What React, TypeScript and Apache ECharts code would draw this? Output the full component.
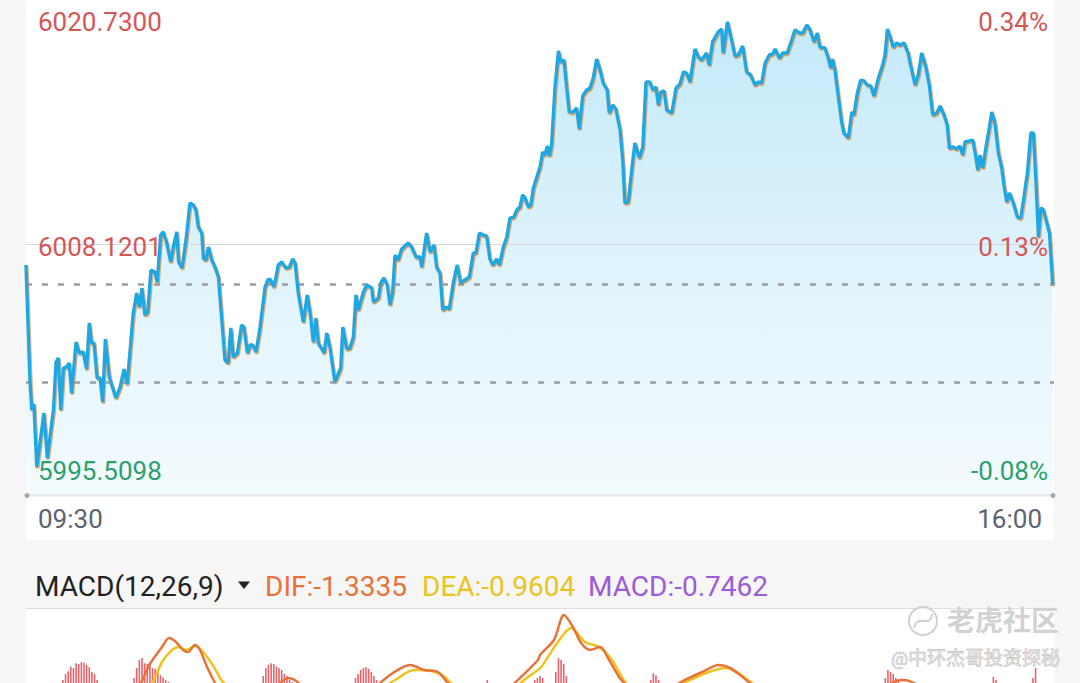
import React, { useEffect, useRef } from "react";
import * as echarts from "echarts";

// ---------- price (minutes after 09:30) ----------
const priceMinutes = [
  0, 1.5, 2.2, 3.0, 4.1, 6.8, 8.1, 10.4, 11.4, 12.3, 13.2, 14.2, 15.4, 16.4, 17.3, 19.0, 20.2, 21.7, 23.0, 24.0,
  24.9, 25.8, 27.0, 28.1, 29.1, 30.1, 31.6, 34.1, 35.7, 37.2, 38.4, 40.7, 42.0, 43.0, 44.0, 45.1, 46.2, 47.4, 48.9, 49.8,
  51.1, 52.1, 53.4, 54.9, 55.9, 57.2, 57.9, 59.2, 60.7, 62.2, 63.5, 64.5, 65.4, 66.7, 67.3, 68.3, 69.2, 70.5, 71.7, 73.0,
  74.2, 75.5, 76.7, 77.7, 78.6, 80.2, 81.8, 82.7, 84.0, 85.0, 86.0, 87.3, 88.8, 90.7, 91.9, 92.8, 94.1, 95.7, 97.0, 98.6,
  99.9, 101.2, 102.1, 103.3, 105.2, 106.7, 108.0, 109.0, 110.0, 110.9, 113.1, 114.1, 115.3, 117.2, 119.4, 120.2, 121.7, 122.9, 124.2, 125.2,
  126.1, 128.0, 129.3, 131.2, 131.8, 133.7, 134.6, 135.8, 137.1, 138.1, 139.1, 140.0, 141.2, 142.5, 145.0, 146.3, 148.0, 149.5, 150.1, 152.0,
  153.3, 154.8, 155.8, 157.1, 158.1, 159.3, 160.6, 162.1, 163.6, 164.9, 166.5, 168.2, 169.7, 170.7, 172.0, 173.3, 174.8, 176.0, 177.1, 178.6,
  179.6, 181.1, 182.4, 183.6, 185.1, 186.2, 187.4, 188.4, 189.3, 190.6, 191.5, 192.5, 193.7, 195.0, 196.0, 196.9, 197.8, 198.6, 199.4, 200.7,
  202.0, 202.9, 204.1, 205.1, 206.1, 207.6, 208.9, 209.9, 211.2, 212.7, 214.0, 215.2, 216.5, 217.8, 219.0, 220.5, 221.3, 222.6, 223.8, 225.4,
  226.4, 227.2, 228.5, 229.8, 231.0, 232.7, 234.0, 235.2, 236.7, 237.8, 239.0, 239.9, 240.8, 242.1, 243.1, 245.0, 246.6, 248.1, 249.4, 250.6,
  251.9, 253.8, 255.1, 256.3, 258.2, 259.2, 260.5, 262.6, 263.9, 264.5, 266.1, 267.7, 269.0, 270.2, 271.9, 273.4, 274.9, 276.6, 277.8, 279.1,
  280.4, 282.0, 283.3, 284.2, 285.8, 287.1, 288.8, 290.5, 291.7, 293.4, 294.7, 296.2, 297.5, 299.0, 300.2, 301.2, 303.1, 304.4, 305.3, 306.0,
  306.9, 308.2, 309.5, 310.3, 312.0, 313.3, 314.1, 315.4, 316.7, 317.9, 319.2, 320.5, 321.7, 323.4, 325.0, 325.9, 326.8, 328.0, 329.0, 330.3,
  331.6, 333.1, 334.7, 335.6, 337.3, 338.5, 339.8, 341.4, 342.7, 344.0, 345.5, 346.8, 348.3, 349.5, 350.3, 351.8, 353.1, 354.3, 355.4, 356.2,
  357.9, 359.2, 360.1, 361.1, 361.9, 363.0, 364.2, 365.5, 366.4, 367.6, 368.9, 370.2, 371.0, 372.1, 373.1, 374.6, 376.1, 377.4, 378.6, 379.9,
  381.2, 382.2, 383.2, 384.1, 385.0, 386.0, 387.3, 388.3, 389.5,
];
const prices = [
  6006.96, 6000.44, 5998.74, 5999.08, 5995.51, 5998.57, 5996.02, 5998.74, 6001.46, 6001.69, 5998.74, 6001.12, 6001.18, 6001.40, 5999.70, 6002.59, 6001.97, 6002.03, 6001.06, 6003.67,
  6002.54, 6002.54, 6000.55, 6000.55, 5999.19, 6002.76, 6000.61, 5999.42, 6000.04, 6001.06, 6000.21, 6004.24, 6005.37, 6004.58, 6005.65, 6004.12, 6004.29, 6006.67, 6006.56, 6005.99,
  6008.66, 6008.83, 6008.20, 6007.13, 6007.98, 6008.83, 6007.13, 6006.79, 6008.37, 6010.47, 6010.36, 6010.08, 6009.11, 6008.77, 6007.35, 6007.24, 6007.98, 6007.24, 6006.84, 6006.28,
  6004.01, 6001.57, 6001.40, 6003.39, 6001.74, 6001.97, 6003.56, 6003.44, 6001.97, 6002.42, 6002.42, 6002.03, 6003.44, 6005.71, 6006.16, 6006.11, 6005.71, 6006.96, 6007.13, 6006.79,
  6006.84, 6007.30, 6007.07, 6005.37, 6003.73, 6005.26, 6004.01, 6002.59, 6003.95, 6002.54, 6001.97, 6003.10, 6002.31, 6000.33, 6001.12, 6003.44, 6002.20, 6002.25, 6002.88, 6005.26,
  6004.41, 6005.43, 6005.82, 6005.65, 6004.86, 6005.09, 6005.94, 6006.22, 6005.82, 6004.69, 6005.43, 6007.52, 6007.24, 6007.86, 6008.20, 6007.98, 6007.41, 6007.41, 6006.84, 6008.77,
  6007.69, 6008.09, 6006.84, 6006.50, 6004.41, 6004.58, 6004.46, 6005.94, 6006.96, 6005.94, 6006.11, 6006.28, 6007.64, 6007.64, 6008.77, 6008.66, 6008.60, 6007.30, 6006.96, 6007.30,
  6006.96, 6007.98, 6008.54, 6009.62, 6009.68, 6010.08, 6010.25, 6010.93, 6010.76, 6010.25, 6010.36, 6011.32, 6011.89, 6012.51, 6013.36, 6013.19, 6013.70, 6013.14, 6013.76, 6017.05,
  6019.09, 6018.46, 6018.58, 6017.05, 6015.63, 6015.63, 6015.86, 6014.67, 6016.54, 6016.88, 6016.99, 6017.56, 6018.63, 6018.01, 6017.27, 6016.88, 6015.57, 6016.03, 6015.80, 6014.61,
  6012.91, 6010.47, 6010.53, 6012.34, 6013.87, 6013.02, 6013.65, 6017.33, 6017.33, 6016.88, 6017.05, 6016.03, 6016.76, 6016.82, 6015.74, 6015.57, 6016.99, 6017.22, 6017.90, 6017.84,
  6017.33, 6019.20, 6018.75, 6018.58, 6018.97, 6018.29, 6019.60, 6020.16, 6020.33, 6018.97, 6020.73, 6019.71, 6018.80, 6018.86, 6019.37, 6017.90, 6017.73, 6017.16, 6017.33, 6017.27,
  6018.41, 6018.86, 6018.92, 6019.20, 6018.69, 6018.97, 6018.97, 6019.71, 6020.28, 6020.11, 6020.11, 6020.56, 6020.28, 6019.60, 6020.11, 6019.31, 6019.26, 6018.69, 6018.12, 6018.63,
  6018.01, 6016.48, 6015.01, 6014.44, 6014.16, 6015.63, 6015.46, 6016.71, 6017.44, 6017.39, 6017.16, 6017.10, 6016.54, 6017.56, 6018.29, 6018.86, 6020.33, 6019.82, 6019.31, 6019.54,
  6019.43, 6019.54, 6018.97, 6018.29, 6017.16, 6017.73, 6018.97, 6018.18, 6017.16, 6015.46, 6015.57, 6015.97, 6015.46, 6014.89, 6013.59, 6013.65, 6013.53, 6013.70, 6013.19, 6013.93,
  6013.99, 6014.04, 6013.31, 6012.34, 6013.19, 6012.46, 6013.65, 6014.78, 6015.63, 6015.01, 6013.31, 6012.46, 6011.49, 6010.53, 6011.04, 6010.47, 6009.68, 6009.62, 6010.81, 6012.17,
  6014.44, 6014.44, 6011.61, 6008.54, 6010.19, 6010.08, 6009.34, 6008.77, 6005.85,
];

const prevClose = 6000.33;
const lastPrice = 6005.85;
const midPrice = 6008.1201;
const axisMin = 5993.923;
const axisMax = 6021.977;

const leftTickLabels = ["6020.7300", "6008.1201", "5995.5098"];
const rightTickLabels = ["0.34%", "0.13%", "-0.08%"];
const tickColors = ["#d65656", "#d65656", "#2d9f6d"];
const timeLabels = ["09:30", "16:00"];

// ---------- MACD ----------
const macdTitle = "MACD(12,26,9)";
const macdLegendTexts = ["DIF:-1.3335", "DEA:-0.9604", "MACD:-0.7462"];
// visible slice of the MACD value axis (the panel is cut by the screenshot)
const macdAxisMin = 0.225;
const macdAxisMax = 2.0;

const difMinutes = [
  0, 10, 30, 40, 43.6, 47, 51.6, 54.3, 56.9, 59.6, 61.5, 64.1, 66, 68.7, 71.7, 76, 85, 92, 96, 99.4,
  103.9, 110, 120, 130, 134, 139.2, 145.7, 151, 156.3, 160.1, 165, 175, 183, 187.8, 194.2, 195, 200.3, 204.1, 207.5, 210.6,
  214, 217.8, 221.2, 225, 226.9, 232, 240, 245, 248.5, 256.5, 262.9, 267.1, 270.9, 274.7, 285, 300, 315, 325, 332, 335,
  340, 350, 360, 370, 380, 389.5,
];
const difValues = [
  -0.6, -0.3, -0.2, -0.1, 0.225, 0.7, 1.125, 1.35, 1.25, 1.05, 1.0, 1.175, 1.05, 0.625, 0.225, -0.3, -0.4, -0.1, 0.2, 0.35,
  0.2, -0.3, -0.4, -0.1, 0.2, 0.475, 0.675, 0.55, 0.5, 0.225, 0.0, -0.1, 0.1, 0.375, 0.8, 0.925, 1.3, 1.925, 1.625, 1.225,
  1.05, 1.125, 0.8, 0.375, 0.225, -0.2, 0.0, 0.1, 0.25, 0.5, 0.675, 0.6, 0.425, 0.225, -0.2, -0.5, -0.3, 0.1, 0.3, 0.28,
  0.1, -0.4, -0.8, -0.7, -0.9, -1.3335,
];
const deaMinutes = [
  0, 20, 40, 47.8, 51.6, 55.4, 58, 60.7, 64.1, 67.2, 71.3, 75.1, 85, 100, 110, 125, 135, 140, 147.2, 153.7,
  159, 161.2, 170, 180, 185, 190.5, 195.4, 201.5, 206.8, 212.1, 217.4, 222.3, 227.6, 235, 245, 251, 259.1, 265.6, 270.9, 275.4,
  290, 310, 330, 345, 360, 375, 389.5,
];
const deaValues = [
  -0.5, -0.3, -0.2, 0.225, 0.75, 1.05, 1.125, 1.05, 1.15, 1.0, 0.625, 0.225, -0.1, 0.1, -0.1, -0.2, 0.1, 0.3, 0.55, 0.525,
  0.375, 0.225, 0.0, -0.05, 0.1, 0.375, 0.625, 1.225, 1.6, 1.25, 1.125, 0.8, 0.225, -0.1, 0.05, 0.27, 0.5, 0.6, 0.45, 0.225,
  -0.2, -0.3, 0.1, -0.2, -0.5, -0.7, -0.9604,
];
const barMinutes = [
  14, 15, 16, 17, 18, 19, 20, 21, 22, 23, 24, 25, 26, 27,
  41, 42, 43, 44, 45, 46, 47, 48, 49, 50, 51, 52, 53, 54,
  90, 91, 92, 93, 94, 95, 96, 97, 98, 99, 100, 101,
  125, 126, 127, 128, 129, 130, 131, 132, 133,
  175, 193, 194, 195, 196,
  201, 202, 203, 204, 205,
  237, 238, 239, 240,
  326, 327, 328, 329, 330, 331,
  367, 368, 382, 383,
];
const barValues = [
  0.3, 0.45, 0.52, 0.64, 0.6, 0.72, 0.7, 0.75, 0.73, 0.68, 0.62, 0.5, 0.45, 0.3,
  0.35, 0.6, 0.8, 0.85, 0.72, 0.7, 0.74, 0.6, 0.58, 0.5, 0.42, 0.36, 0.3, 0.25,
  0.4, 0.6, 0.68, 0.72, 0.7, 0.64, 0.6, 0.55, 0.45, 0.4, 0.3, 0.25,
  0.35, 0.45, 0.55, 0.6, 0.62, 0.58, 0.5, 0.4, 0.3,
  0.3, 0.3, 0.35, 0.4, 0.35,
  0.5, 0.85, 0.8, 0.7, 0.4,
  0.3, 0.47, 0.42, 0.3,
  0.35, 0.55, 0.5, 0.45, 0.35, 0.28,
  0.38, 0.3, 0.35, 0.6,
];

const FONT = 'Roboto, "Noto Sans CJK SC", sans-serif';

export default function App() {
  const ref = useRef<HTMLDivElement>(null);

  useEffect(() => {
    if (!ref.current) return;
    const chart = echarts.init(ref.current, undefined, { renderer: "svg" });

    const priceData = priceMinutes.map((m, i) => [m, prices[i]]);
    const difData = difMinutes.map((m, i) => [m, difValues[i]]);
    const deaData = deaMinutes.map((m, i) => [m, deaValues[i]]);
    const barData = barMinutes.map((m, i) => [m, barValues[i]]);

    const labelYs = [22, 247, 471];
    const txt = (text: string, x: number, y: number, fill: string, size: number, align: string) => ({
      type: "text",
      z: 50,
      silent: true,
      style: {
        text,
        x,
        y,
        fill,
        font: `${size}px ${FONT}`,
        textAlign: align,
        textVerticalAlign: "middle",
        align,
        verticalAlign: "middle",
      },
    });

    const graphics: any[] = [
      { type: "rect", z: -10, silent: true, shape: { x: 26, y: 0, width: 1028, height: 540 }, style: { fill: "#ffffff" } },
      { type: "rect", z: -10, silent: true, shape: { x: 26, y: 609, width: 1028, height: 80 }, style: { fill: "#ffffff" } },
      { type: "line", z: 5, silent: true, shape: { x1: 26, y1: 608.5, x2: 1054, y2: 608.5 }, style: { stroke: "#dedede", lineWidth: 1 } },
      { type: "line", z: 5, silent: true, shape: { x1: 26, y1: 495.5, x2: 1054, y2: 495.5 }, style: { stroke: "#e6e6e6", lineWidth: 2 } },
      { type: "circle", z: 6, silent: true, shape: { cx: 27, cy: 495.5, r: 2.5 }, style: { fill: "#a9a9a9" } },
      { type: "circle", z: 6, silent: true, shape: { cx: 1053, cy: 495.5, r: 2.5 }, style: { fill: "#a9a9a9" } },
    ];
    leftTickLabels.forEach((t, i) => graphics.push(txt(t, 38, labelYs[i], tickColors[i], 26, "left")));
    rightTickLabels.forEach((t, i) => graphics.push(txt(t, 1048, labelYs[i], tickColors[i], 26, "right")));
    graphics.push(txt(timeLabels[0], 38, 519, "#5c6270", 26, "left"));
    graphics.push(txt(timeLabels[1], 1042, 519, "#5c6270", 26, "right"));

    // MACD header
    graphics.push(txt(macdTitle, 35, 586, "#222222", 28, "left"));
    graphics.push({
      type: "polygon",
      z: 50,
      silent: true,
      shape: { points: [[238, 581.5], [250, 581.5], [244, 589]] },
      style: { fill: "#222222" },
    });
    graphics.push(txt(macdLegendTexts[0], 265, 586, "#e8733a", 28, "left"));
    graphics.push(txt(macdLegendTexts[1], 422, 586, "#e9c41c", 28, "left"));
    graphics.push(txt(macdLegendTexts[2], 588, 586, "#9d5bd6", 28, "left"));

    // watermark
    graphics.push({
      type: "circle",
      z: 60,
      silent: true,
      shape: { cx: 923, cy: 621, r: 14 },
      style: { fill: "rgba(255,255,255,0.5)", stroke: "#cfcfcf", lineWidth: 2 },
    });
    graphics.push({
      type: "bezierCurve",
      z: 61,
      silent: true,
      shape: { x1: 914, y1: 628, x2: 932, y2: 614, cpx1: 918, cpy1: 612, cpx2: 930, cpy2: 630 },
      style: { fill: "none", stroke: "#cfcfcf", lineWidth: 2 },
    });
    graphics.push({
      type: "text",
      z: 60,
      silent: true,
      style: {
        text: "老虎社区",
        x: 1059,
        y: 621,
        fill: "#d2d2d2",
        stroke: "#ffffff",
        lineWidth: 1,
        font: `bold 28px ${FONT}`,
        textAlign: "right",
        textVerticalAlign: "middle",
        align: "right",
        verticalAlign: "middle",
      },
    });
    graphics.push({
      type: "text",
      z: 60,
      silent: true,
      style: {
        text: "@中环杰哥投资探秘",
        x: 1060,
        y: 658,
        fill: "#dcdcdc",
        stroke: "#b0b0b0",
        lineWidth: 0.6,
        font: `19px ${FONT}`,
        textAlign: "right",
        textVerticalAlign: "middle",
        align: "right",
        verticalAlign: "middle",
      },
    });

    const dashed = { color: "#989da5", width: 2.5, type: [6, 10] as any };

    chart.setOption({
      animation: false,
      backgroundColor: "#f6f6f6",
      grid: [
        { left: 26, width: 1028, top: 0, height: 495 },
        { left: 26, width: 1028, top: 612, height: 71 },
      ],
      xAxis: [
        { type: "value", gridIndex: 0, min: 0, max: 390, show: false },
        { type: "value", gridIndex: 1, min: 0, max: 390, show: false },
      ],
      yAxis: [
        { type: "value", gridIndex: 0, min: axisMin, max: axisMax, show: false, splitLine: { show: false } },
        { type: "value", gridIndex: 1, min: macdAxisMin, max: macdAxisMax, show: false, splitLine: { show: false } },
      ],
      graphic: { elements: graphics },
      series: [
        {
          // area under the price line, with reference lines above it
          type: "line",
          xAxisIndex: 0,
          yAxisIndex: 0,
          data: priceData,
          symbol: "none",
          z: 2,
          lineStyle: { width: 0, opacity: 0 },
          areaStyle: {
            opacity: 1,
            color: new echarts.graphic.LinearGradient(0, 0, 0, 1, [
              { offset: 0, color: "#c4e9fa" },
              { offset: 0.5, color: "#def3fc" },
              { offset: 1, color: "#f4fbfe" },
            ]),
          },
          markLine: {
            silent: true,
            symbol: ["none", "none"],
            label: { show: false },
            lineStyle: dashed,
            z: 5,
            data: [
              { yAxis: midPrice, lineStyle: { color: "#d6d6d6", width: 1, type: "solid" } },
              { yAxis: lastPrice, lineStyle: dashed },
              { yAxis: prevClose, lineStyle: dashed },
            ],
          },
        },
        {
          type: "line",
          xAxisIndex: 0,
          yAxisIndex: 0,
          data: priceData,
          symbol: "none",
          z: 8,
          lineStyle: {
            color: "#1ca8e0",
            width: 3.4,
            shadowColor: "rgba(200,145,55,0.95)",
            shadowBlur: 0.5,
            shadowOffsetX: 0.7,
            shadowOffsetY: 1.3,
          },
        },
        {
          type: "bar",
          xAxisIndex: 1,
          yAxisIndex: 1,
          data: barData,
          barWidth: 1.6,
          clip: true,
          itemStyle: { color: "#e8646c" },
          z: 2,
        },
        {
          type: "line",
          xAxisIndex: 1,
          yAxisIndex: 1,
          data: difData,
          symbol: "none",
          clip: true,
          smooth: 0.3,
          lineStyle: { color: "#e8733a", width: 2.5 },
          z: 4,
        },
        {
          type: "line",
          xAxisIndex: 1,
          yAxisIndex: 1,
          data: deaData,
          symbol: "none",
          clip: true,
          smooth: 0.3,
          lineStyle: { color: "#f0c31c", width: 2.5 },
          z: 3,
        },
      ],
    });

    return () => chart.dispose();
  }, []);

  return (
    <div
      ref={ref}
      style={{ position: "fixed", left: 0, top: 0, width: 1080, height: 683 }}
    />
  );
}
